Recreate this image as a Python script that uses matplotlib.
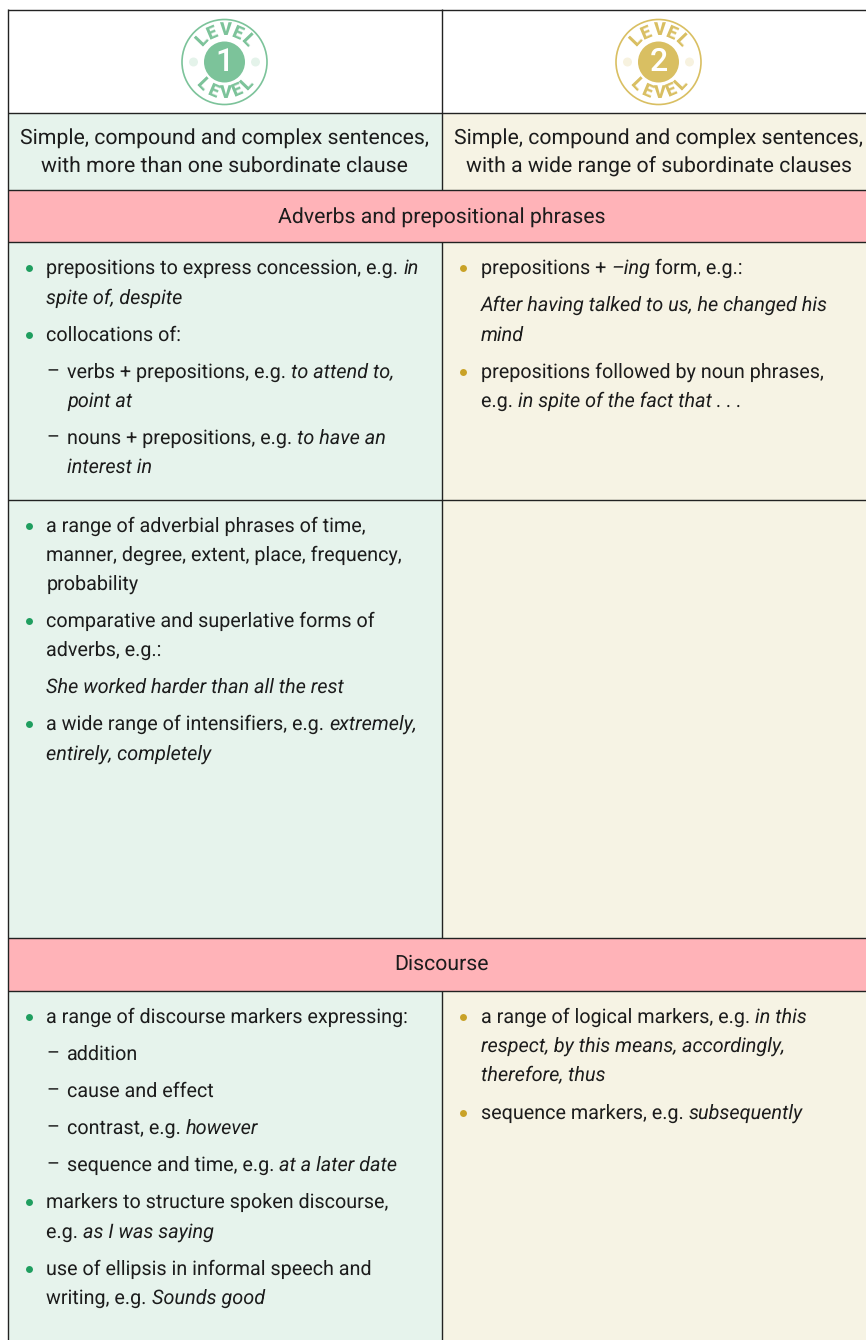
import numpy as np
import matplotlib
matplotlib.use('Agg')
import matplotlib.pyplot as plt
from matplotlib.patches import Rectangle, Circle

plt.rcParams['text.hinting'] = 'no_hinting'
FONT = 'Roboto'

header_left = ['Simple, compound and complex sentences,', 'with more than one subordinate clause']
header_right = ['Simple, compound and complex sentences,', 'with a wide range of subordinate clauses']
band_titles = ['Adverbs and prepositional phrases', 'Discourse']

# kind: b = bullet, c = bullet continuation, d = dash, e = dash continuation
# text between * is italic
adverbs_left = [
    ('b', 'prepositions to express concession, e.g. *in*'),
    ('c', '*spite of, despite*'),
    ('b', 'collocations of:'),
    ('d', 'verbs + prepositions, e.g. *to attend to,*'),
    ('e', '*point at*'),
    ('d', 'nouns + prepositions, e.g. *to have an*'),
    ('e', '*interest in*'),
]
adverbs_left2 = [
    ('b', 'a range of adverbial phrases of time,'),
    ('c', 'manner, degree, extent, place, frequency,'),
    ('c', 'probability'),
    ('b', 'comparative and superlative forms of'),
    ('c', 'adverbs, e.g.:'),
    ('c', '*She worked harder than all the rest*'),
    ('b', 'a wide range of intensifiers, e.g. *extremely,*'),
    ('c', '*entirely, completely*'),
]
adverbs_right = [
    ('b', 'prepositions + *\u2013ing* form, e.g.:'),
    ('c', '*After having talked to us, he changed his*'),
    ('c', '*mind*'),
    ('b', 'prepositions followed by noun phrases,'),
    ('c', 'e.g. *in spite of the fact that . . .*'),
]
discourse_left = [
    ('b', 'a range of discourse markers expressing:'),
    ('d', 'addition'),
    ('d', 'cause and effect'),
    ('d', 'contrast, e.g. *however*'),
    ('d', 'sequence and time, e.g. *at a later date*'),
    ('b', 'markers to structure spoken discourse,'),
    ('c', 'e.g. *as I was saying*'),
    ('b', 'use of ellipsis in informal speech and'),
    ('c', 'writing, e.g. *Sounds good*'),
]
discourse_right = [
    ('b', 'a range of logical markers, e.g. *in this*'),
    ('c', '*respect, by this means, accordingly,*'),
    ('c', '*therefore, thus*'),
    ('b', 'sequence markers, e.g. *subsequently*'),
]

# colours
GREEN_BG = '#e6f3ec'
CREAM_BG = '#f6f3e4'
PINK = '#ffb3b8'
GREEN_DOT = '#1f9e5f'
GOLD_DOT = '#c9a227'
BADGE1 = '#7cc39a'
BADGE2 = '#d9bf62'
INK = '#1c1c1c'
FS = 14.2
FS_IT = 14.3
FS_HEAD = 15.3

fig = plt.figure(figsize=(8.66, 13.40), dpi=100)
ax = fig.add_axes([0, 0, 1, 1])
ax.set_xlim(0, 866)
ax.set_ylim(1340, 0)
ax.axis('off')

L, M, R = 8, 441.5, 866


def box(x0, y0, x1, y1, c):
    ax.add_patch(Rectangle((x0, y0), x1 - x0, y1 - y0, fc=c, ec='none', zorder=1))


box(M, 113, R, 190, CREAM_BG)
box(L, 113, M, 190, GREEN_BG)
box(L, 242, M, 938, GREEN_BG)
box(M, 242, R, 938, CREAM_BG)
box(L, 991, M, 1340, GREEN_BG)
box(M, 991, R, 1340, CREAM_BG)
box(L, 190, R, 242, PINK)
box(L, 938, R, 991, PINK)

for y in [9.5, 113, 190, 242, 500, 938, 991]:
    ax.plot([L, R], [y, y], color='#222222', lw=1.0, zorder=3, solid_capstyle='butt')
ax.plot([L, L], [9, 1340], color='#222222', lw=1.0, zorder=3, solid_capstyle='butt')
for y0, y1 in [(9, 190), (242, 938), (991, 1340)]:
    ax.plot([M, M], [y0, y1], color='#222222', lw=1.0, zorder=3, solid_capstyle='butt')


def badge(cx, cy, num, col):
    ax.add_patch(Circle((cx, cy), 42.5, fc='white', ec=col, lw=1.2, zorder=4))
    ax.add_patch(Circle((cx, cy), 20.5, fc=col, ec='none', zorder=5))
    ax.text(cx, cy + 0.5, num, color='white', fontsize=23, family=FONT, ha='center', va='center',
            weight='medium', zorder=6)
    for sx in [-31, 31]:
        ax.add_patch(Circle((cx + sx, cy), 4.5, fc=col, ec='none', alpha=0.2, zorder=5))
    step = 23
    rad = 31.5
    for i, ch in enumerate('LEVEL'):
        a = (i - 2) * step
        sn, cs = np.sin(np.radians(a)), np.cos(np.radians(a))
        ax.text(cx + rad * sn, cy - rad * cs, ch, color=col, fontsize=13, family=FONT, weight='black',
                rotation=-a, rotation_mode='anchor', ha='center', va='center', zorder=6)
        ax.text(cx + rad * sn, cy + rad * cs, ch, color=col, fontsize=13, family=FONT, weight='black',
                rotation=a, rotation_mode='anchor', ha='center', va='center', zorder=6)


badge(224.5, 62, '1', BADGE1)
badge(658.5, 62, '2', BADGE2)

r = fig.canvas.get_renderer()


def rich(x, y, s):
    # alternating upright and italic runs on one baseline
    parts = s.split('*')
    for i, p in enumerate(parts):
        if not p:
            continue
        t = ax.text(x, y, p, fontsize=FS_IT if i % 2 else FS, family=FONT, color=INK, va='baseline', ha='left',
                    style='italic' if i % 2 else 'normal', zorder=5)
        x += t.get_window_extent(r).width


def cell(x0, lines, ys, dot):
    for (kind, s), y in zip(lines, ys):
        base = y + 6.5
        if kind == 'b':
            ax.plot([x0 - 18], [y + 0.5], 'o', ms=5, color=dot, mec='none', zorder=5)
        if kind == 'd':
            ax.text(x0, base, '\u2013', fontsize=FS, family=FONT, color=INK, zorder=5)
        tx = x0 + 20.5 if kind in 'de' else x0
        rich(tx, base, s)


def centered(cx, ys, txts):
    for y, t in zip(ys, txts):
        ax.text(cx, y + 1.5, t, fontsize=FS_HEAD, family=FONT, color=INK, ha='center', va='center', zorder=5)


centered(224.5, [137, 165], header_left)
centered(659, [137, 165], header_right)
centered(441.5, [216], band_titles[:1])
centered(441.5, [963], band_titles[1:])

cell(46.5, adverbs_left, [267, 297, 334, 371, 400, 437, 466], GREEN_DOT)
cell(46.5, adverbs_left2, [525, 554, 583, 620, 649, 686, 723, 753], GREEN_DOT)
cell(481, adverbs_right, [267, 304, 334, 371, 400], GOLD_DOT)
cell(46.5, discourse_left, [1016, 1053, 1090, 1127, 1164, 1201, 1231, 1268, 1297], GREEN_DOT)
cell(481, discourse_right, [1016, 1045, 1075, 1112], GOLD_DOT)

fig.savefig('out.png', dpi=100)
